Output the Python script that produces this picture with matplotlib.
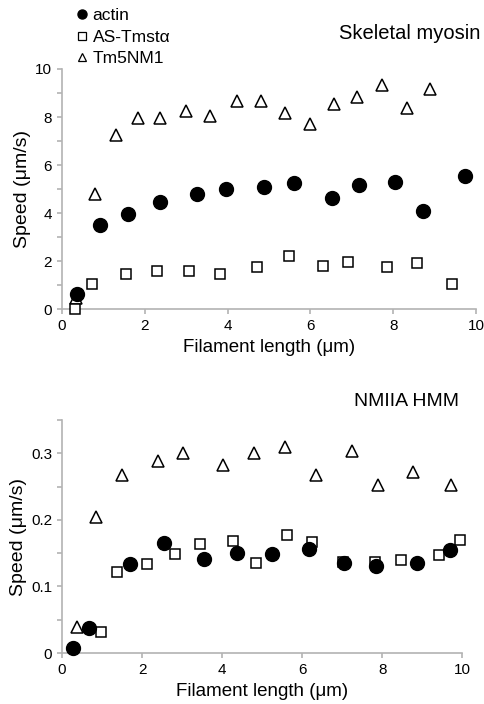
import numpy as np
import matplotlib.pyplot as plt
from matplotlib.lines import Line2D

plt.rcParams['font.family'] = ['Liberation Sans', 'DejaVu Sans']

# skeletal myosin panel
sk_actin_x = [0.37, 0.92, 1.60, 2.37, 3.25, 3.95, 4.89, 5.60, 6.52, 7.18, 8.04, 8.71, 9.73]
sk_actin_y = [0.61, 3.51, 3.96, 4.45, 4.80, 4.99, 5.10, 5.24, 4.63, 5.17, 5.30, 4.10, 5.56]
sk_as_x = [0.31, 0.72, 1.54, 2.29, 3.07, 3.82, 4.70, 5.48, 6.30, 6.92, 7.84, 8.57, 9.41]
sk_as_y = [0.01, 1.03, 1.45, 1.59, 1.59, 1.45, 1.76, 2.19, 1.80, 1.98, 1.76, 1.90, 1.03]
sk_tm_x = [0.33, 0.80, 1.30, 1.84, 2.38, 3.00, 3.57, 4.22, 4.81, 5.39, 5.99, 6.58, 7.12, 7.72, 8.34, 8.89]
sk_tm_y = [0.45, 4.80, 7.24, 7.94, 7.94, 8.24, 8.03, 8.66, 8.66, 8.17, 7.70, 8.56, 8.84, 9.33, 8.36, 9.15]

# NMIIA HMM panel
nm_actin_x = [0.28, 0.68, 1.70, 2.56, 3.55, 4.37, 5.24, 6.16, 7.05, 7.85, 8.87, 9.70]
nm_actin_y = [0.007, 0.037, 0.133, 0.166, 0.141, 0.150, 0.148, 0.156, 0.135, 0.130, 0.135, 0.154]
nm_as_x = [0.98, 1.38, 2.12, 2.83, 3.45, 4.27, 4.85, 5.63, 6.24, 7.03, 7.83, 8.48, 9.43, 9.95]
nm_as_y = [0.031, 0.121, 0.133, 0.148, 0.164, 0.169, 0.135, 0.178, 0.167, 0.136, 0.136, 0.140, 0.147, 0.170]
nm_tm_x = [0.37, 0.85, 1.51, 2.39, 3.03, 4.03, 4.81, 5.58, 6.35, 7.24, 7.89, 8.77, 9.72]
nm_tm_y = [0.039, 0.205, 0.267, 0.289, 0.300, 0.282, 0.300, 0.310, 0.268, 0.303, 0.252, 0.272, 0.252]

labels = ['actin', 'AS-Tmst\u03b1', 'Tm5NM1']
AX_COL = '#b3b3b3'

fig = plt.figure(figsize=(4.84, 7.04), dpi=100)
ax1 = fig.add_axes([0.128, 0.561, 0.8555, 0.341])
ax2 = fig.add_axes([0.128, 0.0724, 0.827, 0.331])


def draw_panel(ax, ax_, ay, sx, sy, tx, ty):
    ax.plot(tx, ty, ls='none', marker='^', ms=8.5, mfc='white', mec='black', mew=1.1, zorder=2)
    ax.plot(sx, sy, ls='none', marker='s', ms=7.5, mfc='white', mec='black', mew=1.1, zorder=3)
    ax.plot(ax_, ay, ls='none', marker='o', ms=10, mfc='black', mec='black', zorder=4)
    ax.spines['top'].set_visible(False)
    ax.spines['right'].set_visible(False)
    for s in ('left', 'bottom'):
        ax.spines[s].set_color(AX_COL)
        ax.spines[s].set_linewidth(1.2)
    ax.tick_params(colors=AX_COL, labelcolor='black', labelsize=11, length=3.5, width=1.2)
    ax.set_xlim(0, 10)
    ax.set_xticks([0, 2, 4, 6, 8, 10])
    ax.set_xlabel('Filament length (\u03bcm)', fontsize=13.5, labelpad=4.5)
    ax.set_ylabel('Speed (\u03bcm/s)', fontsize=14, labelpad=3)
    ax.patch.set_visible(False)
    for line in ax.lines:
        line.set_clip_on(False)


draw_panel(ax1, sk_actin_x, sk_actin_y, sk_as_x, sk_as_y, sk_tm_x, sk_tm_y)
ax1.set_ylim(0, 10)
ax1.set_yticks(np.arange(0, 11, 1))
ax1.set_yticklabels(['0', '', '2', '', '4', '', '6', '', '8', '', '10'])

draw_panel(ax2, nm_actin_x, nm_actin_y, nm_as_x, nm_as_y, nm_tm_x, nm_tm_y)
ax2.set_ylim(0, 0.35)
ax2.set_yticks(np.arange(0, 0.36, 0.05))
ax2.set_yticklabels(['0', '', '0.1', '', '0.2', '', '0.3', ''])

fig.text(0.992, 0.953, 'Skeletal myosin', ha='right', va='center', fontsize=14.5)
fig.text(0.948, 0.429, 'NMIIA HMM', ha='right', va='center', fontsize=14)

handles = [
    Line2D([], [], ls='none', marker='o', ms=6.5, mfc='black', mec='black'),
    Line2D([], [], ls='none', marker='s', ms=6, mfc='white', mec='black', mew=0.9),
    Line2D([], [], ls='none', marker='^', ms=6, mfc='white', mec='black', mew=0.9),
]
fig.legend(handles, labels, loc='upper left', bbox_to_anchor=(0.152, 0.994),
           frameon=False, fontsize=12.5, handlelength=0.6, handletextpad=0.3,
           labelspacing=0.38, borderaxespad=0, borderpad=0.2)

fig.savefig('out.png', dpi=100)
